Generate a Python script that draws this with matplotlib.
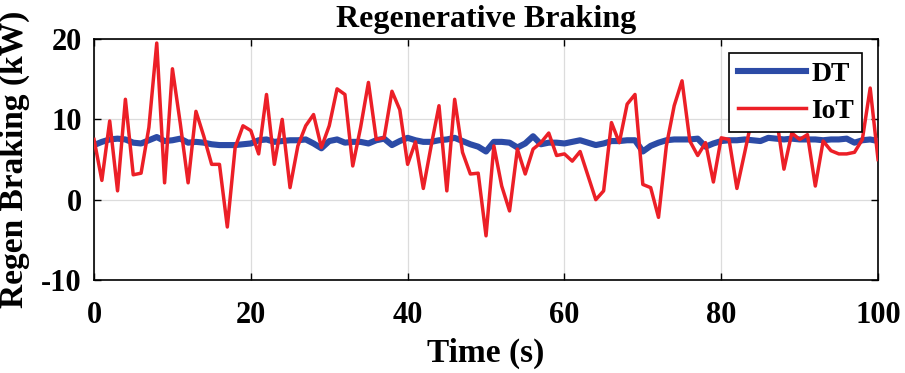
#!/usr/bin/env python3
"""Regenerative braking power: digital twin vs IoT measurements."""

import matplotlib

matplotlib.use("Agg")
import matplotlib.pyplot as plt
import numpy as np

time_s = list(range(0, 101))

dt_kw = [
    6.8, 7.2, 7.5, 7.6, 7.5, 7.1, 7.0, 7.4, 7.8, 7.3,
    7.4, 7.6, 7.1, 7.2, 7.1, 6.9, 6.8, 6.8, 6.8, 6.9,
    7.0, 7.4, 7.5, 7.2, 7.3, 7.4, 7.4, 7.5, 7.0, 6.4,
    7.3, 7.5, 7.1, 7.2, 7.2, 7.0, 7.4, 7.6, 6.8, 7.3,
    7.7, 7.4, 7.2, 7.2, 7.4, 7.5, 7.7, 7.3, 6.9, 6.6,
    6.0, 7.2, 7.2, 7.1, 6.5, 7.0, 7.9, 6.9, 7.1, 7.1,
    7.0, 7.2, 7.4, 7.1, 6.8, 7.0, 7.3, 7.3, 7.4, 7.4,
    6.0, 6.7, 7.1, 7.4, 7.5, 7.5, 7.5, 7.6, 6.6, 7.0,
    7.3, 7.4, 7.4, 7.5, 7.4, 7.3, 7.7, 7.6, 7.5, 7.6,
    7.5, 7.5, 7.5, 7.4, 7.5, 7.5, 7.6, 7.1, 7.4, 7.5,
    7.3,
]

iot_kw = [
    7.5, 2.4, 9.8, 1.1, 12.5, 3.1, 3.3, 9.0, 19.5, 2.1,
    16.3, 9.5, 2.1, 11.0, 7.9, 4.4, 4.4, -3.4, 6.5, 9.2,
    8.6, 5.7, 13.1, 4.4, 10.0, 1.5, 6.7, 9.2, 10.6, 6.5,
    9.2, 13.8, 13.1, 4.2, 9.0, 14.6, 7.5, 7.7, 13.5, 11.2,
    4.4, 7.2, 1.4, 6.7, 11.7, 1.1, 12.5, 5.9, 3.2, 3.3,
    -4.5, 6.7, 1.7, -1.4, 6.3, 3.2, 6.3, 7.1, 8.3, 5.5,
    5.7, 4.8, 6.0, 3.0, 0.0, 1.1, 9.6, 7.1, 11.9, 13.1,
    1.9, 1.5, -2.2, 6.7, 11.7, 14.8, 7.3, 5.5, 7.1, 2.2,
    7.7, 7.5, 1.4, 5.9, 10.5, 12.0, 11.0, 10.5, 3.8, 8.3,
    7.5, 8.1, 1.7, 7.3, 6.1, 5.7, 5.7, 5.9, 7.5, 13.9,
    5.0,
]

x_ticks = [0, 20, 40, 60, 80, 100]
y_ticks = [-10, 0, 10, 20]


def main() -> None:
    plt.rcParams.update(
        {
            "font.family": "serif",
            "font.serif": ["Liberation Serif", "DejaVu Serif"],
            "font.weight": "bold",
            "axes.labelweight": "bold",
            "axes.titleweight": "bold",
            "axes.unicode_minus": False,
        }
    )

    fig = plt.figure(figsize=(9.05, 3.73), dpi=100)
    ax = fig.add_axes([0.1039, 0.2493, 0.8663, 0.646])

    t = np.array(time_s, dtype=float)
    ax.plot(t, dt_kw, color="#2c4ba6", linewidth=4.4, label="DT", zorder=3)
    ax.plot(t, iot_kw, color="#ec1f27", linewidth=2.5, label="IoT", zorder=4)

    ax.set_xlim(0, 100)
    ax.set_ylim(-10, 20)
    ax.set_xticks(x_ticks)
    ax.set_yticks(y_ticks)
    ax.grid(True, color="#dcdcdc", linewidth=0.9)
    ax.set_axisbelow(True)
    ax.tick_params(direction="in", top=True, right=True, length=5,
                   labelsize=22, width=1.0)
    ax.tick_params(axis="x", pad=15)
    ax.tick_params(axis="y", pad=9)
    for lbl in ax.get_xticklabels() + ax.get_yticklabels():
        lbl.set_fontweight("bold")
    for spine in ax.spines.values():
        spine.set_linewidth(1.2)

    ax.set_title("Regenerative Braking", fontsize=23, pad=9)
    ax.set_xlabel("Time (s)", fontsize=24, labelpad=6)
    ax.set_ylabel("Regen Braking (kW)", fontsize=24, labelpad=8)

    leg = ax.legend(
        loc="upper right",
        bbox_to_anchor=(0.98, 0.942),
        borderaxespad=0.0,
        fontsize=20,
        handlelength=2.45,
        handletextpad=0.2,
        borderpad=0.3,
        labelspacing=0.42,
        fancybox=False,
        framealpha=1.0,
        edgecolor="black",
    )
    leg.get_frame().set_linewidth(1.2)
    leg.set_zorder(10)

    fig.savefig("out.png", dpi=100)
    plt.close(fig)


if __name__ == "__main__":
    main()
